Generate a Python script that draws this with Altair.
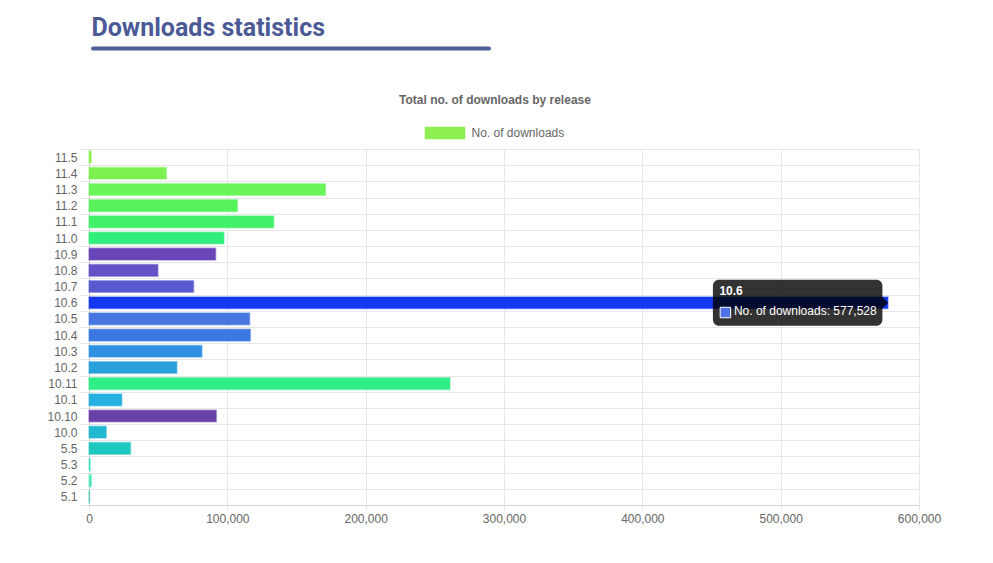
import altair as alt
import pandas as pd

# ---- data -------------------------------------------------------------
releases = ["11.5", "11.4", "11.3", "11.2", "11.1", "11.0", "10.9", "10.8",
            "10.7", "10.6", "10.5", "10.4", "10.3", "10.2", "10.11", "10.1",
            "10.10", "10.0", "5.5", "5.3", "5.2", "5.1"]
downloads = [1600, 55900, 170900, 107200, 133500, 97500, 91500, 49800,
             75600, 577528, 116100, 116600, 81600, 63500, 260900, 23700,
             92000, 12400, 30000, 900, 1700, 300]
bar_colors = ["#8df050", "#7df150", "#6af55a", "#57f25a", "#42f06a", "#30ee7a",
              "#6a46b8", "#6352c6", "#5a5acf", "#1438f2", "#4677e0", "#3b78e2",
              "#2f90e4", "#29a0dc", "#2eee88", "#25b0e0", "#6b40a8", "#22b8d2",
              "#1ec8c0", "#3de0c0", "#50e8b8", "#22c0a0"]
x_ticks = [0, 100000, 200000, 300000, 400000, 500000, 600000]

heading = "Downloads statistics"
chart_title = "Total no. of downloads by release"
series_name = "No. of downloads"
tooltip_release = "10.6"

df = pd.DataFrame({"release": releases, "downloads": downloads, "color": bar_colors})
tip_df = df[df["release"] == tooltip_release]

FONT = "Liberation Sans"
W, H = 830, 356

x_axis = alt.Axis(title=None, values=x_ticks, format=",d", grid=True,
                  tickSize=5, labelPadding=3, labelFlush=False)
x_scale = alt.Scale(domain=[0, 600000], nice=False)
y_axis = alt.Axis(title=None, tickBand="extent", grid=True,
                  tickSize=10, labelPadding=2)
y_scale = alt.Scale(paddingInner=0, paddingOuter=0)

x_enc = alt.X("downloads:Q", scale=x_scale, axis=x_axis)
y_enc = alt.Y("release:N", sort=releases, scale=y_scale, axis=y_axis)
ty = alt.Y("release:N", sort=releases, scale=y_scale, axis=y_axis, bandPosition=0.5)

bars = alt.Chart(df).mark_bar(height={"band": 0.72}, strokeWidth=1.5,
                              strokeOpacity=0.45).encode(
    x=x_enc, y=y_enc,
    color=alt.Color("color:N", scale=None),
    stroke=alt.Stroke("color:N", scale=None),
)

# ---- tooltip anchored at the hovered bar -------------------------------
tip_box = alt.Chart(tip_df).mark_rect(
    color="#000000", opacity=0.8, cornerRadius=6,
    xOffset=-175, x2Offset=-5.5, yOffset=-23, y2Offset=23
).encode(x=x_enc, x2="downloads:Q", y=ty,
         y2=alt.Y2("release:N", bandPosition=0.5))

tip_caret = alt.Chart(tip_df).mark_point(
    shape="M-0.5,-1L0.5,0L-0.5,1Z", filled=True, size=144,
    color="#000000", opacity=0.8, xOffset=-2.8
).encode(x=x_enc, y=ty)

tip_title = alt.Chart(tip_df).mark_text(
    align="left", baseline="middle", font=FONT, fontSize=12, fontWeight="bold",
    color="#ffffff", xOffset=-168.5, yOffset=-11.5
).encode(x=x_enc, y=ty, text="release:N")

tip_swatch = alt.Chart(tip_df).mark_square(
    size=110, fill="#5070e8", stroke="#ffffff", strokeWidth=1, opacity=1,
    xOffset=-162.5, yOffset=9.8
).encode(x=x_enc, y=ty)

tip_text = alt.Chart(tip_df).transform_calculate(
    label="'" + series_name + ": ' + format(datum.downloads, ',')"
).mark_text(
    align="left", baseline="middle", font=FONT, fontSize=12,
    color="#ffffff", xOffset=-154, yOffset=8.5
).encode(x=x_enc, y=ty, text="label:N")

# ---- decorations (heading, title, legend) -------------------------------
one = alt.Data(values=[{}])
head = alt.Chart(one).mark_text(
    text=heading, align="left", baseline="alphabetic", font="Roboto",
    fontSize=25, fontWeight="bold", color="#4b5a97"
).encode(x=alt.value(2.5), y=alt.value(-113.5))

underline = alt.Chart(one).mark_rule(
    color="#4f5f9b", strokeWidth=4, strokeCap="round"
).encode(x=alt.value(4), x2=alt.value(400), y=alt.value(-100.5))

title_txt = alt.Chart(one).mark_text(
    text=chart_title, align="center", baseline="middle", font=FONT,
    fontSize=12, fontWeight="bold", color="#666666"
).encode(x=alt.value(406), y=alt.value(-49))

legend_box = alt.Chart(one).mark_rect(
    fill=bar_colors[0], stroke=bar_colors[0], strokeOpacity=0.5, strokeWidth=1
).encode(x=alt.value(336), x2=alt.value(376), y=alt.value(-22), y2=alt.value(-10))

legend_txt = alt.Chart(one).mark_text(
    text=series_name, align="left", baseline="middle", font=FONT,
    fontSize=12, color="#666666"
).encode(x=alt.value(382.5), y=alt.value(-16))

chart = alt.layer(
    bars, tip_box, tip_caret, tip_title, tip_swatch, tip_text,
    head, underline, title_txt, legend_box, legend_txt
).properties(
    width=W, height=H,
    autosize=alt.AutoSizeParams(type="none"),
    padding={"left": 89, "top": 149, "right": 74, "bottom": 58},
).configure_view(stroke=None).configure_axis(
    gridColor="#e6e6e6", tickColor="#e6e6e6", domainColor="#d4d4d4",
    labelColor="#666666", labelFont=FONT, labelFontSize=12,
)

chart.save("out.html", embed_options={"renderer": "svg", "actions": False})
